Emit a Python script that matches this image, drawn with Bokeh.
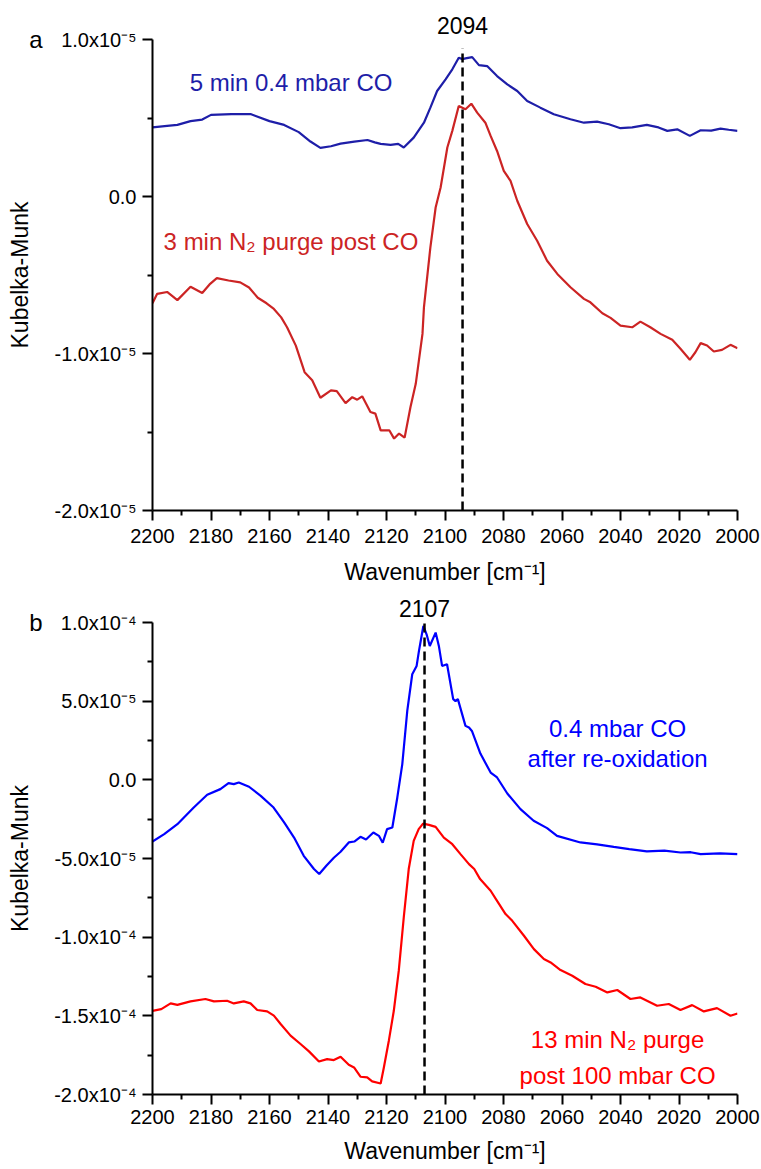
from bokeh.plotting import figure
from bokeh.models import Range1d, FixedTicker, CustomJSTickFormatter, Label, LinearAxis
from bokeh.layouts import column
from bokeh.embed import file_html
from bokeh.resources import INLINE

# ---------------- data ----------------
# panel a (Kubelka-Munk in units of 1e-5)
SCALE_A = 1e-5
wn_a_blue = [2200, 2195, 2191.5, 2187, 2183, 2180, 2173, 2166.5, 2160, 2155, 2150, 2146, 2142.6,
             2139, 2135.7, 2131, 2126.5, 2124, 2122, 2118.6, 2116, 2114.1, 2110.7, 2107.2, 2105,
             2102.7, 2099.8, 2097.5, 2095.3, 2094, 2093, 2090.7, 2088.4, 2085.6, 2082.2, 2078.7,
             2075.3, 2071.9, 2067.4, 2062.8, 2057.1, 2052.5, 2048, 2044, 2040, 2036, 2031, 2027,
             2024, 2020.6, 2016.3, 2012.6, 2009, 2005.8, 2003, 2000]
km_a_blue = [0.44, 0.45, 0.456, 0.48, 0.49, 0.52, 0.525, 0.525, 0.48, 0.456, 0.41, 0.35, 0.31,
             0.32, 0.337, 0.35, 0.36, 0.345, 0.335, 0.329, 0.335, 0.312, 0.375, 0.47, 0.566,
             0.672, 0.746, 0.81, 0.884, 0.875, 0.88, 0.888, 0.837, 0.831, 0.767, 0.714,
             0.672, 0.608, 0.566, 0.524, 0.492, 0.47, 0.477, 0.46, 0.435, 0.44, 0.456, 0.44,
             0.418, 0.428, 0.386, 0.422, 0.42, 0.432, 0.425, 0.418]

wn_a_red = [2200, 2198.4, 2195, 2191.5, 2187, 2183, 2180.5, 2178, 2174, 2170, 2167, 2164, 2161,
            2158.5, 2156, 2154, 2151, 2148, 2145.4, 2142.6, 2139, 2137, 2134, 2131.7, 2130,
            2128.3, 2125.5, 2123.8, 2122, 2119, 2117.4, 2115.7, 2113.8, 2111.8, 2110, 2107.7,
            2107.2, 2105, 2103.2, 2101.5, 2099.2, 2097.5, 2095.3, 2093, 2091, 2089, 2086.2,
            2084.4, 2082.2, 2079.9, 2077.6, 2075.3, 2071.9, 2068.5, 2065.1, 2061.6, 2057.1,
            2052.5, 2050.3, 2046.2, 2043.4, 2040, 2036, 2033.2, 2029.8, 2026.3, 2022.3, 2019.5,
            2016.3, 2014.4, 2012.6, 2010.4, 2008.1, 2005.3, 2002.4, 2000]
km_a_red = [-0.68, -0.62, -0.608, -0.66, -0.575, -0.615, -0.56, -0.52, -0.535, -0.547, -0.58,
            -0.645, -0.68, -0.716, -0.77, -0.833, -0.95, -1.119, -1.17, -1.282, -1.235, -1.24,
            -1.316, -1.278, -1.294, -1.273, -1.373, -1.383, -1.49, -1.49, -1.542, -1.51, -1.536,
            -1.341, -1.193, -0.875,
            -0.706, -0.324, -0.07, 0.057, 0.312, 0.418, 0.577, 0.556, 0.591, 0.534, 0.47,
            0.386, 0.29, 0.163, 0.1, -0.027, -0.175, -0.282, -0.409, -0.493, -0.578,
            -0.652, -0.674, -0.744, -0.773, -0.822, -0.833, -0.797, -0.833, -0.875, -0.913, -0.97,
            -1.04, -0.992, -0.934, -0.949, -0.987, -0.977, -0.945, -0.966]

# panel b (Kubelka-Munk in units of 1e-5)
SCALE_B = 1e-5
wn_b_blue = [2200, 2196, 2191.5, 2185.9, 2181.3, 2176.8, 2174, 2172.2, 2170.5, 2167, 2163, 2158.6,
             2155, 2151.6, 2148.3, 2144.8, 2143, 2140.5, 2138, 2135.7, 2132.9, 2131, 2128.9, 2127,
             2124.5, 2122.6, 2121.3, 2119.8, 2118, 2116.3, 2114.6, 2112.9, 2111.2, 2109.7, 2108.9,
             2107.4, 2106.3, 2105.2, 2103.2, 2102.1, 2101, 2099.3, 2097.2, 2096.4, 2095.6, 2093,
             2091.8, 2090.8, 2087.9, 2084.4, 2082.2, 2078.7, 2074.2, 2069.7, 2065.1, 2061.7,
             2053.7, 2048, 2042.3, 2037, 2031, 2025, 2019.5, 2016, 2012.6, 2006, 2000]
km_b_blue = [-3.92, -3.45, -2.82, -1.76, -0.95, -0.59, -0.21, -0.27, -0.17, -0.44, -1.02, -1.76,
             -2.71, -3.67, -4.83, -5.67, -5.99, -5.45, -4.95, -4.57, -3.98, -3.92, -3.62, -3.79,
             -3.35, -3.56, -4.0, -3.13, -3.03, -1.12, 1.0, 4.38, 6.71, 7.24, 8.2,
             9.78, 9.25, 8.51, 9.36, 8.51, 7.24, 7.35, 5.13, 5.0, 5.13, 3.43,
             3.32, 3.11, 1.67, 0.46, 0.15, -0.87, -1.86, -2.6, -3.07, -3.56,
             -3.98, -4.1, -4.26, -4.4, -4.55, -4.5, -4.62, -4.6, -4.72, -4.68, -4.72]

wn_b_red = [2200, 2197, 2193.8, 2191.5, 2187, 2181.9, 2179, 2174.5, 2172.2, 2168.8, 2166.5, 2164.2,
            2160.8, 2158.5, 2156.2, 2152.8, 2149.4, 2146.5, 2143.1, 2140.3, 2138, 2135.7, 2132.9,
            2131.1, 2128.9, 2126.6, 2124.9, 2122, 2120.9, 2119.2, 2117.5, 2115.8, 2114.1, 2112.4,
            2110.7, 2109, 2107.5, 2105.5, 2103.2, 2100.4, 2097.5, 2094.7, 2091.8, 2090, 2088,
            2084.4, 2082.2, 2079.3, 2077, 2073, 2069.6, 2066.2, 2063.9, 2060.5, 2056.5, 2052,
            2048.5, 2044.5, 2041.1, 2036.6, 2033.2, 2027.5, 2023.5, 2019.5, 2015.5, 2011.5, 2007,
            2002.4, 2000]
km_b_red = [-14.68, -14.57, -14.21, -14.3, -14.08, -13.93, -14.08, -14.04, -14.21, -14.08, -14.21,
            -14.63, -14.72, -14.99, -15.52, -16.26, -16.79, -17.26, -17.9, -17.75, -17.81, -17.6,
            -18.11, -18.28, -18.87, -18.91, -19.17, -19.3, -18.28, -16.58, -14.68, -12.13, -8.75,
            -5.67, -3.88, -3.13, -2.78, -2.86, -2.99, -3.67, -4.09, -4.72, -5.36, -5.67, -6.31,
            -7.05, -7.69, -8.53, -8.96, -9.91, -10.76, -11.39, -11.61, -12.09, -12.45, -12.98,
            -13.15, -13.51, -13.36, -13.93, -13.83, -14.36, -14.25, -14.63, -14.32, -14.72, -14.51,
            -14.99, -14.85]

peak_a = 2094
peak_b = 2107

x_ticks = [2200, 2180, 2160, 2140, 2120, 2100, 2080, 2060, 2040, 2020, 2000]
x_minor = [2190, 2170, 2150, 2130, 2110, 2090, 2070, 2050, 2030, 2010]

y_ticks_a = [-2e-5, -1e-5, 0.0, 1e-5]
y_labels_a = ["-2.0x10\u207b\u2075", "-1.0x10\u207b\u2075", "0.0", "1.0x10\u207b\u2075"]
y_minor_a = [-1.5e-5, -0.5e-5, 0.5e-5]

y_ticks_b = [-2e-4, -1.5e-4, -1e-4, -5e-5, 0.0, 5e-5, 1e-4]
y_labels_b = ["-2.0x10\u207b\u2074", "-1.5x10\u207b\u2074", "-1.0x10\u207b\u2074",
              "-5.0x10\u207b\u2075", "0.0", "5.0x10\u207b\u2075", "1.0x10\u207b\u2074"]
y_minor_b = [-1.75e-4, -1.25e-4, -7.5e-5, -2.5e-5, 2.5e-5, 7.5e-5]

panel_letters = ["a", "b"]
label_a_blue = "5 min 0.4 mbar CO"
label_a_red = "3 min N\u2082 purge post CO"
label_b_blue = ["0.4 mbar CO", "after re-oxidation"]
label_b_red = ["13 min N\u2082 purge", "post 100 mbar CO"]

# ---------------- styling ----------------
FONT = "Liberation Sans"
C_A_BLUE = "#1e1ea8"
C_A_RED = "#cc2424"
C_B_BLUE = "#0000ff"
C_B_RED = "#ff0000"
LW = 2.2

FMT_CODE = """
let best = 0;
for (let i = 1; i < vals.length; i++) {
  if (Math.abs(vals[i] - tick) < Math.abs(vals[best] - tick)) best = i;
}
return labs[best];
"""


def style(p, yt, yl, ym, letter, peak, x_std, x_title_std):
    p.xaxis.ticker = FixedTicker(ticks=x_ticks, minor_ticks=x_minor)
    p.yaxis.ticker = FixedTicker(ticks=yt, minor_ticks=ym)
    p.yaxis.formatter = CustomJSTickFormatter(args=dict(vals=yt, labs=yl), code=FMT_CODE)
    p.xgrid.visible = False
    p.ygrid.visible = False
    p.outline_line_color = None
    for ax in (p.xaxis[0], p.yaxis[0]):
        ax.axis_line_width = 2
        ax.axis_line_color = "black"
        ax.major_tick_line_width = 2
        ax.minor_tick_line_width = 2
        ax.major_tick_in = 0
        ax.major_tick_out = 10
        ax.minor_tick_in = 0
        ax.minor_tick_out = 5
        ax.major_label_text_font = FONT
        ax.major_label_text_font_size = "20px"
        ax.major_label_text_color = "black"
        ax.axis_label_text_font = FONT
        ax.axis_label_text_font_size = "23px"
        ax.axis_label_text_font_style = "normal"
        ax.axis_label_text_color = "black"
    p.xaxis.major_label_standoff = x_std
    p.yaxis.major_label_standoff = 6
    p.xaxis.axis_label = "Wavenumber [cm\u207b\u00b9]"
    p.xaxis.axis_label_standoff = x_title_std

    # outer left axis: panel letter at the top tick, and the y title
    top = yt[-1]
    outer = LinearAxis(ticker=FixedTicker(ticks=[top], minor_ticks=[]),
                       formatter=CustomJSTickFormatter(args=dict(t=letter), code="return t;"),
                       axis_label="Kubelka-Munk", axis_line_color=None,
                       major_tick_line_color=None, minor_tick_line_color=None,
                       major_tick_out=0, major_tick_in=0, major_label_standoff=9,
                       major_label_text_font=FONT, major_label_text_font_size="24px",
                       major_label_text_color="black",
                       axis_label_text_font=FONT, axis_label_text_font_size="23px",
                       axis_label_text_font_style="normal", axis_label_text_color="black",
                       axis_label_standoff=-7)
    p.add_layout(outer, "left")

    # top axis carrying the peak position label
    peak_axis = LinearAxis(ticker=FixedTicker(ticks=[peak], minor_ticks=[]),
                           axis_line_color=None, major_tick_line_color=None,
                           minor_tick_line_color=None, major_tick_out=0, major_tick_in=0,
                           major_label_standoff=6, major_label_text_font=FONT,
                           major_label_text_font_size="23px", major_label_text_color="black")
    p.add_layout(peak_axis, "above")


def add_text(p, text, x, y, color, size="24px", align="left", baseline="middle"):
    p.add_layout(Label(x=x, y=y, text=text, text_color=color, text_font=FONT,
                       text_font_size=size, text_align=align, text_baseline=baseline))


# ---------------- panel a ----------------
p1 = figure(width=761, height=590, output_backend="svg", toolbar_location=None,
            x_range=Range1d(2200, 2000), y_range=Range1d(-2e-5, 1e-5),
            min_border_left=152, min_border_right=24, min_border_top=39, min_border_bottom=80)
style(p1, y_ticks_a, y_labels_a, y_minor_a, panel_letters[0], peak_a, 8, 13)
p1.line(wn_a_blue, [v * SCALE_A for v in km_a_blue], line_color=C_A_BLUE, line_width=LW)
p1.line(wn_a_red, [v * SCALE_A for v in km_a_red], line_color=C_A_RED, line_width=LW)
p1.segment(x0=[peak_a], y0=[-2e-5], x1=[peak_a], y1=[0.945e-5], line_color="black",
           line_width=2.5, line_dash="9 5")
add_text(p1, label_a_blue, 2187.3, 0.723e-5, C_A_BLUE)
add_text(p1, label_a_red, 2196.2, -0.288e-5, C_A_RED)

# ---------------- panel b ----------------
p2 = figure(width=761, height=579, output_backend="svg", toolbar_location=None,
            x_range=Range1d(2200, 2000), y_range=Range1d(-2e-4, 1e-4),
            min_border_left=152, min_border_right=24, min_border_top=32, min_border_bottom=75)
style(p2, y_ticks_b, y_labels_b, y_minor_b, panel_letters[1], peak_b, 5, 11)
p2.line(wn_b_blue, [v * SCALE_B for v in km_b_blue], line_color=C_B_BLUE, line_width=LW)
p2.line(wn_b_red, [v * SCALE_B for v in km_b_red], line_color=C_B_RED, line_width=LW)
p2.segment(x0=[peak_b], y0=[-2e-4], x1=[peak_b], y1=[1e-4], line_color="black",
           line_width=2.5, line_dash="9 5")
add_text(p2, label_b_blue[0], 2041, 3.24e-5, C_B_BLUE, align="center")
add_text(p2, label_b_blue[1], 2041, 1.33e-5, C_B_BLUE, align="center")
add_text(p2, label_b_red[0], 2041, -16.52e-5, C_B_RED, align="center")
add_text(p2, label_b_red[1], 2041, -18.8e-5, C_B_RED, align="center")

layout = column(p1, p2, spacing=0)
open("out.html", "w").write(file_html(layout, INLINE))
